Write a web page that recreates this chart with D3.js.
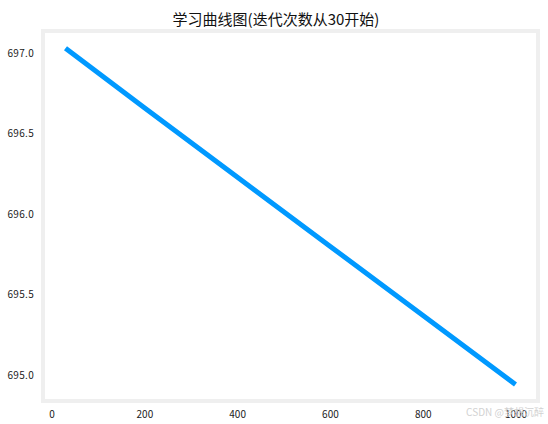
<!DOCTYPE html>
<html>
<head>
<meta charset="utf-8">
<script src="https://cdn.jsdelivr.net/npm/d3@7"></script>
<style>
html,body{margin:0;padding:0;background:#fff;}
svg{display:block;}
</style>
</head>
<body>
<svg id="chart" width="548" height="424"></svg>
<script>
const iterations = [30, 200, 400, 600, 800, 1000];
const lossValues = [697.03, 696.66, 696.23, 695.80, 695.37, 694.94];
const xTicks = [0, 200, 400, 600, 800, 1000];
const yTicks = [695.0, 695.5, 696.0, 696.5, 697.0];
const titleText = "学习曲线图(迭代次数从30开始)";
const watermark = "CSDN @梦想沉醉";

(function () {
const svg = d3.select("#chart");
const pLeft = 43, pRight = 538, pTop = 31, pBottom = 401;
const font = "'Noto Sans CJK SC', 'DejaVu Sans', sans-serif";

const x = d3.scaleLinear().domain([-18.5, 1048.5]).range([pLeft, pRight]);
const y = d3.scaleLinear().domain([694.8375, 697.1375]).range([pBottom, pTop]);

svg.append("rect").attr("width", 548).attr("height", 424).attr("fill", "#fff");

// frame
svg.append("rect")
  .attr("x", pLeft).attr("y", pTop)
  .attr("width", pRight - pLeft).attr("height", pBottom - pTop)
  .attr("fill", "#fff").attr("stroke", "#efefef").attr("stroke-width", 4);

// axes
const xAxis = d3.axisBottom(x).tickValues(xTicks).tickSize(0).tickPadding(8).tickFormat(d3.format("d"));
const gx = svg.append("g").attr("transform", `translate(0,${pBottom + 2})`).call(xAxis);
gx.select(".domain").remove();
gx.selectAll("text").attr("font-family", font).attr("font-size", 10).attr("fill", "#222");

const yAxis = d3.axisLeft(y).tickValues(yTicks).tickSize(0).tickPadding(7).tickFormat(d3.format(".1f"));
const gy = svg.append("g").attr("transform", `translate(${pLeft - 2},0)`).call(yAxis);
gy.select(".domain").remove();
gy.selectAll("text").attr("font-family", font).attr("font-size", 10).attr("fill", "#222").attr("letter-spacing", 0.3);

// line
const line = d3.line().x((d, i) => x(iterations[i])).y(d => y(d));
svg.append("path")
  .datum(lossValues)
  .attr("d", line)
  .attr("fill", "none")
  .attr("stroke", "#0099ff")
  .attr("stroke-width", 5);

// title
svg.append("text")
  .attr("x", 276).attr("y", 25)
  .attr("text-anchor", "middle")
  .attr("font-family", font)
  .attr("font-size", 15)
  .attr("fill", "#111")
  .text(titleText);

// watermark
svg.append("text")
  .attr("x", 544).attr("y", 416)
  .attr("text-anchor", "end")
  .attr("font-family", font)
  .attr("font-size", 10)
  .attr("fill", "#d2d2d2")
  .text(watermark);
})();
</script>
</body>
</html>
